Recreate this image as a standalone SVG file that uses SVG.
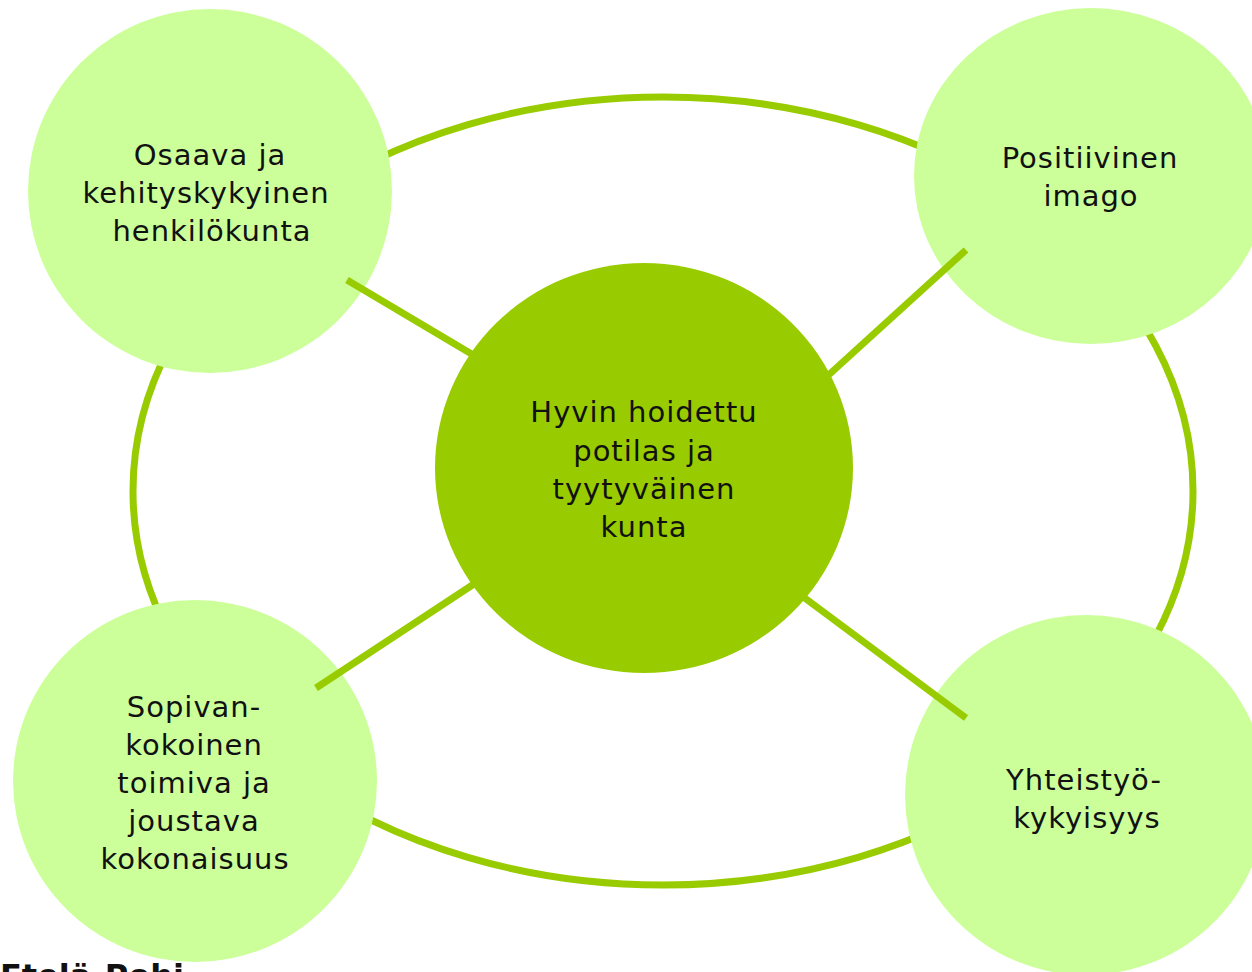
<svg xmlns="http://www.w3.org/2000/svg" width="1252" height="972" viewBox="0 0 1252 972">
<style>
.outer{fill:#CCFF99;}
.center{fill:#99CC00;}
.line{stroke:#99CC00;stroke-width:7;fill:none;}
.lbl{font-family:"DejaVu Sans",Verdana,sans-serif;font-size:29px;letter-spacing:1px;fill:#111;text-anchor:middle;}
.cap{font-family:"DejaVu Sans",Verdana,sans-serif;font-size:32px;font-weight:bold;fill:#111;}
</style>
<rect width="1252" height="972" fill="#fff"/>
<g id="connectors">
<ellipse class="line" cx="663" cy="491" rx="530" ry="394"/>
</g>
<g id="node-osaava"><ellipse class="outer" cx="210" cy="191" rx="182" ry="182"/></g>
<g id="node-positiivinen"><ellipse class="outer" cx="1091" cy="176" rx="177" ry="168"/></g>
<g id="node-sopivan"><ellipse class="outer" cx="195" cy="781" rx="182" ry="181"/></g>
<g id="node-yhteistyo"><ellipse class="outer" cx="1086" cy="795" rx="181" ry="180"/></g>
<g id="spokes">
<line class="line" x1="347" y1="280" x2="480" y2="359"/>
<line class="line" x1="966" y1="250" x2="822" y2="381"/>
<line class="line" x1="316" y1="688" x2="480" y2="580"/>
<line class="line" x1="966" y1="718" x2="798" y2="593"/>
</g>
<g id="node-center"><ellipse class="center" cx="644" cy="468" rx="209" ry="205"/>
<text class="lbl" x="644" y="422">Hyvin hoidettu</text>
<text class="lbl" x="644" y="461">potilas ja</text>
<text class="lbl" x="644" y="499">tyytyväinen</text>
<text class="lbl" x="644" y="537">kunta</text>
</g>
<g id="labels">
<text class="lbl" x="210" y="165">Osaava ja</text>
<text class="lbl" x="206" y="203">kehityskykyinen</text>
<text class="lbl" x="212" y="241">henkilökunta</text>
<text class="lbl" x="1090" y="168">Positiivinen</text>
<text class="lbl" x="1091" y="206">imago</text>
<text class="lbl" x="194" y="717">Sopivan-</text>
<text class="lbl" x="194" y="755">kokoinen</text>
<text class="lbl" x="194" y="793">toimiva ja</text>
<text class="lbl" x="194" y="831">joustava</text>
<text class="lbl" x="195" y="869">kokonaisuus</text>
<text class="lbl" x="1084" y="790">Yhteistyö-</text>
<text class="lbl" x="1087" y="828">kykyisyys</text>
</g>
<text class="cap" x="0" y="987">Etelä-Pohj</text>
</svg>
